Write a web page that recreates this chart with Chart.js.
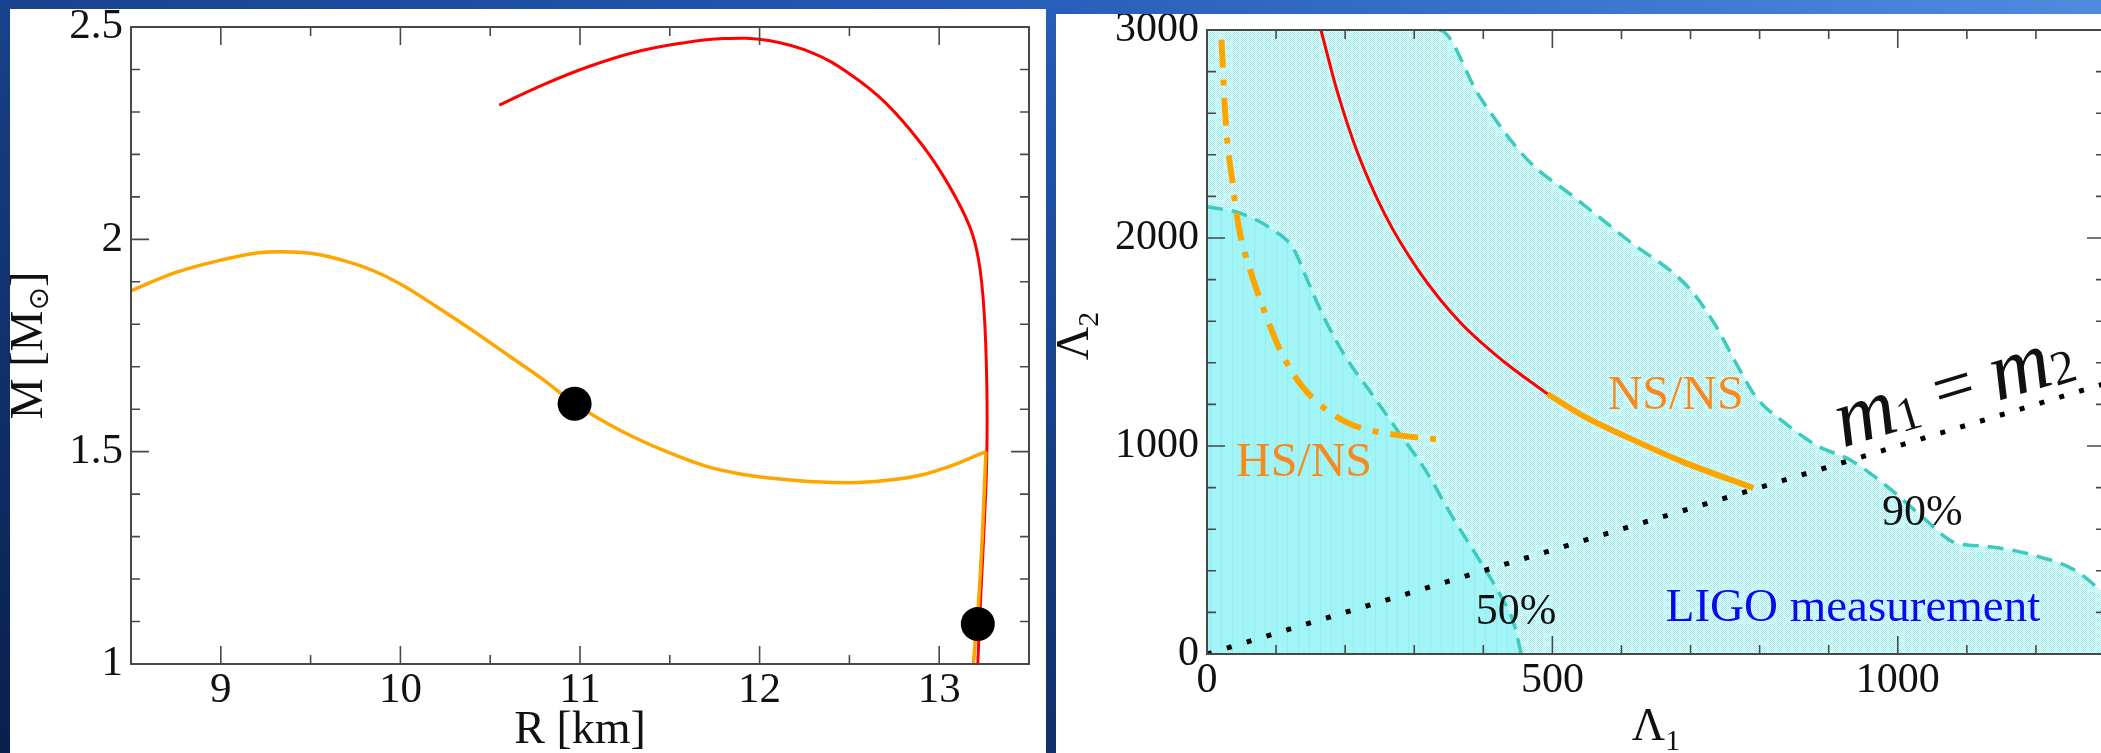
<!DOCTYPE html>
<html>
<head>
<meta charset="utf-8">
<script src="https://cdn.jsdelivr.net/npm/chart.js@4.4.1/dist/chart.umd.min.js"></script>
<style>
    html, body { margin: 0; padding: 0; width: 2101px; height: 753px; overflow: hidden; }
    body {
        position: relative;
        background: linear-gradient(20deg, #0a1f4c 0%, #143a7c 40%, #2157b3 70%, #4f8ce0 100%);
    }
    .panel { position: absolute; background: #fff; overflow: hidden; }
    #leftPanel { left: 10px; top: 9px; width: 1036px; height: 744px; }
    #rightPanel { left: 1056px; top: 14px; width: 1045px; height: 739px; }
    canvas { position: absolute; left: 0; top: 0; }
</style>
</head>
<body>
<div class="panel" id="leftPanel"><canvas id="mrChart" width="1036" height="744"></canvas></div>
<div class="panel" id="rightPanel"><canvas id="lambdaChart" width="1052" height="739"></canvas></div>
<script>
// ---- 左: 質量-半径関係 (R [km], M [Msun]) ----
const redR = [10.55, 10.80, 11.05, 11.30, 11.55, 11.80, 12.05, 12.30, 12.50, 12.70, 12.90, 13.05, 13.17, 13.22, 13.25, 13.265, 13.265, 13.25, 13.23, 13.215];
const redM = [2.316, 2.365, 2.407, 2.440, 2.461, 2.473, 2.468, 2.438, 2.390, 2.322, 2.225, 2.130, 2.030, 1.950, 1.830, 1.660, 1.490, 1.320, 1.150, 1.000];
const orangeUpperR = [8.50, 8.75, 9.00, 9.20, 9.34, 9.50, 9.70, 9.85, 10.00, 10.20, 10.40, 10.60, 10.80, 10.97, 11.15, 11.30, 11.50, 11.70, 11.90, 12.10, 12.30, 12.50, 12.70, 12.90, 13.10, 13.26];
const orangeUpperM = [1.879, 1.922, 1.951, 1.968, 1.971, 1.967, 1.948, 1.926, 1.895, 1.842, 1.786, 1.727, 1.668, 1.613, 1.567, 1.534, 1.497, 1.466, 1.447, 1.436, 1.429, 1.427, 1.432, 1.445, 1.472, 1.500];
const orangeLowerR = [13.26, 13.24, 13.22, 13.19];
const orangeLowerM = [1.500, 1.300, 1.150, 1.000];
const dotR = [10.97, 13.215];
const dotM = [1.613, 1.094];
const rTickLabels = [9, 10, 11, 12, 13];
const mTickLabels = [1, 1.5, 2, 2.5];

// ---- 右: 潮汐変形率 (Lambda1, Lambda2) ----
const cl90X = [0, 336, 395, 463, 532, 610, 698, 737, 767, 796, 835, 884, 930, 985, 1037, 1083, 1130, 1200, 1255, 1300];
const cl90Y = [3000, 3000, 2678, 2379, 2195, 1988, 1759, 1575, 1391, 1230, 1115, 1000, 935, 805, 655, 535, 517, 472, 405, 290];
const cl50X = [0, 48, 96, 125, 145, 169, 199, 238, 277, 316, 356, 395, 424, 444, 455];
const cl50Y = [2150, 2120, 2038, 1950, 1800, 1621, 1437, 1253, 1069, 885, 655, 448, 287, 149, 0];
const nsRedX = [165, 189, 218, 258, 307, 365, 430, 493];
const nsRedY = [3000, 2700, 2410, 2110, 1840, 1600, 1405, 1250];
const nsOrangeX = [493, 550, 610, 688, 791];
const nsOrangeY = [1250, 1135, 1040, 925, 798];
const hsX = [21, 27, 37, 47, 62, 81, 106, 135, 169, 209, 267, 346];
const hsY = [2954, 2563, 2264, 2034, 1851, 1667, 1460, 1299, 1184, 1103, 1057, 1028];
const equalX = [0, 1300];
const equalY = [0, 1300];
const lam1TickLabels = [0, 500, 1000];
const lam2TickLabels = [0, 1000, 2000, 3000];

const SERIF = '"Liberation Serif", "Times New Roman", serif';

function toXY(xs, ys) {
    return xs.map((x, i) => ({ x: x, y: ys[i] }));
}

function inList(list, v) {
    return list.some(t => Math.abs(t - v) < 1e-6);
}

/**
 * 軸サイズを固定し、ラベル由来の余白を消す
 */
function fixSize(prop, size) {
    return scale => {
        scale[prop] = size;
        scale.paddingLeft = 0;
        scale.paddingRight = 0;
        scale.paddingTop = 0;
        scale.paddingBottom = 0;
    };
}

/**
 * 枠と内向きの目盛りを描く
 */
function framePlugin(xLabels, yLabels) {
    return {
        id: 'frame',
        afterDatasetsDraw(chart) {
            const { ctx, chartArea: a, scales: { x, y } } = chart;
            ctx.save();
            ctx.strokeStyle = '#484848';
            ctx.lineWidth = 1.6;
            ctx.beginPath();
            x.ticks.forEach(t => {
                const px = x.getPixelForValue(t.value);
                const len = inList(xLabels, t.value) ? 18 : 9;
                ctx.moveTo(px, a.bottom); ctx.lineTo(px, a.bottom - len);
                ctx.moveTo(px, a.top); ctx.lineTo(px, a.top + len);
            });
            y.ticks.forEach(t => {
                const py = y.getPixelForValue(t.value);
                const len = inList(yLabels, t.value) ? 18 : 9;
                ctx.moveTo(a.left, py); ctx.lineTo(a.left + len, py);
                ctx.moveTo(a.right, py); ctx.lineTo(a.right - len, py);
            });
            ctx.stroke();
            ctx.lineWidth = 2;
            ctx.strokeRect(a.left, a.top, a.right - a.left, a.bottom - a.top);
            ctx.restore();
        }
    };
}

/**
 * 添字付きテキストを描く
 */
function drawParts(ctx, parts, x, y, align) {
    let total = 0;
    parts.forEach(p => {
        ctx.font = p.font;
        p.w = ctx.measureText(p.t).width;
        total += p.w;
    });
    let cx = align === 'center' ? x - total / 2 : (align === 'right' ? x - total : x);
    ctx.textAlign = 'left';
    ctx.textBaseline = 'middle';
    parts.forEach(p => {
        ctx.font = p.font;
        ctx.fillText(p.t, cx, y + (p.dy || 0));
        cx += p.w;
    });
}

function scaleOpts(min, max, step, labels, fontSize, padding, fixProp, fixValue) {
    return {
        type: 'linear',
        min: min,
        max: max,
        ticks: {
            stepSize: step,
            autoSkip: false,
            maxRotation: 0,
            minRotation: 0,
            padding: padding,
            color: '#111',
            font: { family: SERIF, size: fontSize, lineHeight: 1.2 },
            callback: v => inList(labels, v) ? String(Math.round(v * 10) / 10) : ''
        },
        grid: { display: false, drawTicks: false },
        border: { display: false },
        afterFit: fixSize(fixProp, fixValue)
    };
}

// ---- 左チャート ----
const leftText = {
    id: 'leftText',
    afterDraw(chart) {
        const { ctx, chartArea: a } = chart;
        ctx.save();
        ctx.fillStyle = '#111';
        drawParts(ctx, [{ t: 'R [km]', font: `46px ${SERIF}` }], (a.left + a.right) / 2, a.bottom + 67, 'center');
        ctx.translate(20, (a.top + a.bottom) / 2);
        ctx.rotate(-Math.PI / 2);
        drawParts(ctx, [
            { t: 'M [M', font: `46px ${SERIF}` },
            { t: '\u2299', font: '28px "DejaVu Sans"', dy: 11 },
            { t: ']', font: `46px ${SERIF}` }
        ], 0, 0, 'center');
        ctx.restore();
    }
};

new Chart(document.getElementById('mrChart'), {
    type: 'line',
    data: {
        datasets: [
            {
                data: toXY(redR, redM),
                borderColor: '#ff0000', borderWidth: 3, pointRadius: 0, tension: 0.4, fill: false, order: 3
            },
            {
                data: toXY(orangeUpperR, orangeUpperM),
                borderColor: '#ffa500', borderWidth: 3.5, pointRadius: 0,
                cubicInterpolationMode: 'monotone', fill: false, order: 2
            },
            {
                data: toXY(orangeLowerR, orangeLowerM),
                borderColor: '#ffa500', borderWidth: 3.5, pointRadius: 0, tension: 0.2, fill: false, order: 2
            },
            {
                data: toXY(dotR, dotM),
                showLine: false, pointRadius: 17, pointBackgroundColor: '#000', pointBorderWidth: 0, order: 0
            }
        ]
    },
    options: {
        responsive: false,
        animation: false,
        events: [],
        layout: { padding: { top: 18, right: 2, left: 0, bottom: 0 } },
        plugins: { legend: { display: false }, tooltip: { enabled: false } },
        scales: {
            x: scaleOpts(8.5, 13.5, 0.5, rTickLabels, 43, 1, 'height', 89),
            y: scaleOpts(1, 2.5, 0.1, mTickLabels, 43, 8, 'width', 121)
        }
    },
    plugins: [framePlugin(rTickLabels, mTickLabels), leftText]
});

// ---- 右チャート ----
function makePattern(w, h, draw) {
    const c = document.createElement('canvas');
    c.width = w;
    c.height = h;
    draw(c.getContext('2d'));
    return c.getContext('2d').createPattern(c, 'repeat');
}

const dots90 = makePattern(2, 2, g => {
    g.fillStyle = '#ffffff'; g.fillRect(0, 0, 2, 2);
    g.fillStyle = '#92f3f5'; g.fillRect(0, 0, 1, 1); g.fillRect(1, 1, 1, 1);
});
const stripes50 = makePattern(11, 1, g => {
    g.fillStyle = '#a2f4f6'; g.fillRect(0, 0, 11, 1);
    g.fillStyle = '#8eeef2'; g.fillRect(0, 0, 1, 1);
});

const hsColor = '#f7891f';
const rightText = {
    id: 'rightText',
    afterDraw(chart) {
        const { ctx, chartArea: a, scales: { x, y } } = chart;
        const at = (vx, vy) => [x.getPixelForValue(vx), y.getPixelForValue(vy)];
        ctx.save();
        const notes = [
            { t: 'HS/NS', v: [42, 918], size: 48, color: hsColor },
            { t: 'NS/NS', v: [580, 1240], size: 48, color: hsColor },
            { t: '90%', v: [977, 678], size: 44, color: '#111' },
            { t: '50%', v: [389, 202], size: 44, color: '#111' },
            { t: 'LIGO measurement', v: [664, 216], size: 47, color: '#0a0ae8' }
        ];
        notes.forEach(n => {
            const [px, py] = at(n.v[0], n.v[1]);
            ctx.fillStyle = n.color;
            drawParts(ctx, [{ t: n.t, font: `${n.size}px ${SERIF}` }], px, py, 'left');
        });

        // m1 = m2 (点線に沿って回転)
        const [x0, y0] = at(equalX[0], equalY[0]);
        const [x1, y1] = at(equalX[1], equalY[1]);
        const [mx, my] = at(1082, 1265);
        ctx.save();
        ctx.fillStyle = '#111';
        ctx.translate(mx, my);
        ctx.rotate(Math.atan2(y1 - y0, x1 - x0));
        const mFont = `italic 84px ${SERIF}`;
        const sFont = `48px ${SERIF}`;
        drawParts(ctx, [
            { t: 'm', font: mFont },
            { t: '1', font: sFont, dy: 12 },
            { t: ' = ', font: `72px ${SERIF}` },
            { t: 'm', font: mFont },
            { t: '2', font: sFont, dy: 12 }
        ], 0, 0, 'center');
        ctx.restore();

        // 軸タイトル
        ctx.fillStyle = '#111';
        drawParts(ctx, [
            { t: '\u039B', font: `46px ${SERIF}` },
            { t: '1', font: `30px ${SERIF}`, dy: 14 }
        ], (a.left + a.right) / 2, a.bottom + 74, 'center');
        ctx.translate(20, (a.top + a.bottom) / 2 - 6);
        ctx.rotate(-Math.PI / 2);
        drawParts(ctx, [
            { t: '\u039B', font: `46px ${SERIF}` },
            { t: '2', font: `30px ${SERIF}`, dy: 14 }
        ], 0, 0, 'center');
        ctx.restore();
    }
};

const dashTeal = '#3ccbbd';
new Chart(document.getElementById('lambdaChart'), {
    type: 'line',
    data: {
        datasets: [
            {
                data: toXY(cl90X, cl90Y),
                fill: 'origin', backgroundColor: dots90,
                borderColor: dashTeal, borderWidth: 3.5, borderDash: [16, 9],
                segment: { borderColor: c => c.p0DataIndex === 0 ? 'rgba(0,0,0,0)' : undefined },
                pointRadius: 0, cubicInterpolationMode: 'monotone', order: 10
            },
            {
                data: toXY(cl50X, cl50Y),
                fill: 'origin', backgroundColor: stripes50,
                borderColor: dashTeal, borderWidth: 3.5, borderDash: [16, 9],
                pointRadius: 0, cubicInterpolationMode: 'monotone', order: 9
            },
            {
                data: toXY(equalX, equalY),
                borderColor: '#000', borderWidth: 5, borderDash: [5, 15.7], borderCapStyle: 'butt',
                pointRadius: 0, fill: false, order: 5
            },
            {
                data: toXY(nsRedX, nsRedY),
                borderColor: '#ff0000', borderWidth: 3, pointRadius: 0,
                cubicInterpolationMode: 'monotone', fill: false, order: 4
            },
            {
                data: toXY(nsOrangeX, nsOrangeY),
                borderColor: '#ffa500', borderWidth: 6, pointRadius: 0,
                cubicInterpolationMode: 'monotone', fill: false, order: 3
            },
            {
                data: toXY(hsX, hsY),
                borderColor: '#ffa500', borderWidth: 6, borderDash: [28, 12, 6, 12],
                pointRadius: 0, cubicInterpolationMode: 'monotone', fill: false, order: 2
            }
        ]
    },
    options: {
        responsive: false,
        animation: false,
        events: [],
        layout: { padding: { top: 16, right: 3, left: 0, bottom: 0 } },
        plugins: { legend: { display: false }, tooltip: { enabled: false } },
        scales: {
            x: scaleOpts(0, 1300, 100, lam1TickLabels, 42, 2, 'height', 99),
            y: scaleOpts(0, 3000, 200, lam2TickLabels, 42, 8, 'width', 151)
        }
    },
    plugins: [framePlugin(lam1TickLabels, lam2TickLabels), rightText]
});
</script>
</body>
</html>
